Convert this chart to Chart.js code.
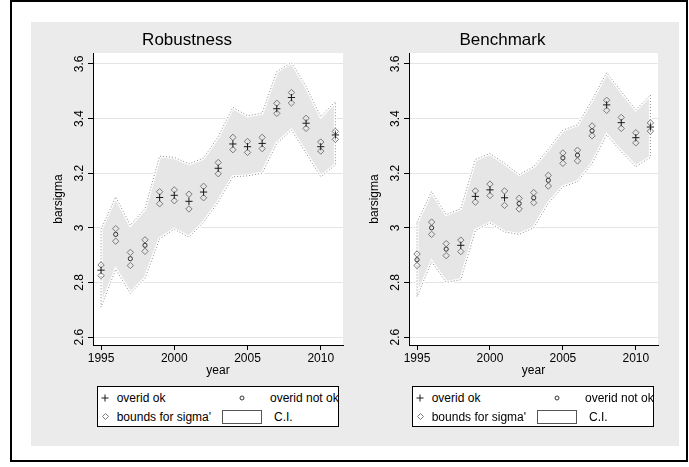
<!DOCTYPE html>
<html>
<head>
<meta charset="utf-8">
<script src="https://cdn.jsdelivr.net/npm/chart.js@4.4.0/dist/chart.umd.min.js"></script>
<style>
  html, body { margin: 0; padding: 0; background: #fff; width: 689px; height: 467px; overflow: hidden;
    font-family: "Liberation Sans", Arial, Helvetica, sans-serif; }
  #frame { position: absolute; left: 10px; top: 0px; width: 678px; height: 462px; box-sizing: border-box; border: 2px solid #000; }
  #bg { position: absolute; left: 31px; top: 22px; width: 648px; height: 424px; background: #ebebeb; }
  canvas { position: absolute; top: 22px; }
  #c1 { left: 31px; }
  #c2 { left: 347px; }
  .legend { position: absolute; top: 386px; width: 242px; height: 41px; box-sizing: border-box;
    border: 1px solid #000; background: #fff; overflow: visible; }
  .legend .t { position: absolute; font-size: 12px; line-height: 14px; color: #000; white-space: nowrap; }
  .legend svg { position: absolute; overflow: visible; }
</style>
</head>
<body>
<div id="frame"></div>
<div id="bg"></div>
<canvas id="c1" width="324" height="358"></canvas>
<canvas id="c2" width="323" height="358"></canvas>
<div class="legend" id="leg1"></div>
<div class="legend" id="leg2"></div>
<script>
// ---- data ----
const years = [1995, 1996, 1997, 1998, 1999, 2000, 2001, 2002, 2003, 2004, 2005, 2006, 2007, 2008, 2009, 2010, 2011];
const xTicks = [1995, 2000, 2005, 2010];
const yTicks = [2.6, 2.8, 3.0, 3.2, 3.4, 3.6];
const yTickLabels = ['2.6', '2.8', '3', '3.2', '3.4', '3.6'];

// Robustness panel
const robBoundHi = [2.864, 2.997, 2.910, 2.956, 3.132, 3.139, 3.123, 3.152, 3.239, 3.331, 3.316, 3.331, 3.456, 3.495, 3.401, 3.314, 3.353];
const robBoundLo = [2.825, 2.951, 2.862, 2.914, 3.088, 3.099, 3.069, 3.110, 3.198, 3.286, 3.276, 3.290, 3.419, 3.457, 3.364, 3.281, 3.324];
const robOk      = [2.845, null, null, null, 3.111, 3.119, 3.097, 3.131, 3.218, 3.307, 3.297, 3.309, 3.436, 3.477, 3.383, 3.297, 3.340];
const robNotOk   = [null, 2.976, 2.887, 2.936, null, null, null, null, null, null, null, null, null, null, null, null, null];
const robCiHi    = [2.995, 3.113, 3.010, 3.070, 3.262, 3.258, 3.234, 3.255, 3.334, 3.441, 3.410, 3.420, 3.572, 3.605, 3.517, 3.407, 3.462];
const robCiLo    = [2.710, 2.848, 2.760, 2.815, 2.960, 2.995, 2.966, 3.020, 3.095, 3.187, 3.190, 3.200, 3.309, 3.358, 3.273, 3.187, 3.230];

// Benchmark panel
const benBoundHi = [2.904, 3.021, 2.942, 2.955, 3.135, 3.160, 3.135, 3.108, 3.129, 3.192, 3.274, 3.284, 3.373, 3.467, 3.404, 3.348, 3.384];
const benBoundLo = [2.862, 2.976, 2.898, 2.913, 3.094, 3.118, 3.082, 3.069, 3.092, 3.153, 3.236, 3.245, 3.337, 3.430, 3.364, 3.311, 3.354];
const benOk      = [null, null, null, 2.936, 3.115, 3.139, 3.110, null, null, null, null, null, null, 3.450, 3.385, 3.330, 3.369];
const benNotOk   = [2.883, 3.000, 2.922, null, null, null, null, 3.089, 3.110, 3.174, 3.256, 3.266, 3.355, null, null, null, null];
const benCiHi    = [3.020, 3.133, 3.048, 3.070, 3.250, 3.272, 3.236, 3.195, 3.224, 3.288, 3.358, 3.377, 3.468, 3.568, 3.499, 3.432, 3.486];
const benCiLo    = [2.748, 2.876, 2.800, 2.810, 2.990, 3.018, 2.985, 2.976, 3.000, 3.090, 3.150, 3.169, 3.236, 3.340, 3.279, 3.224, 3.258];

// ---- helpers ----
Chart.defaults.font.family = '"Liberation Sans", Arial, Helvetica, sans-serif';
Chart.defaults.font.size = 12;
Chart.defaults.color = '#000';

const pts = ys => years.map((x, i) => ({ x: x, y: ys[i] }));
// closed outline of the confidence band: upper edge forward, lower edge back
function bandOutline(hi, lo) {
  const up = pts(hi);
  const dn = pts(lo).reverse();
  return up.concat(dn, [up[0]]);
}

const plotBackground = {
  id: 'plotBackground',
  beforeDraw(chart) {
    const { ctx, chartArea: a } = chart;
    ctx.save();
    ctx.fillStyle = '#ffffff';
    ctx.fillRect(a.left, a.top, a.right - a.left, a.bottom - a.top);
    ctx.restore();
  }
};

function makePanel(canvasId, title, boundHi, boundLo, okVals, notOkVals, ciHi, ciLo) {
  const markerBase = { type: 'line', showLine: false, pointHitRadius: 0 };
  return new Chart(document.getElementById(canvasId), {
    type: 'line',
    data: {
      datasets: [
        { label: 'C.I. upper', data: pts(ciHi), fill: '+1', backgroundColor: '#e6e6e6',
          borderWidth: 0, pointRadius: 0, tension: 0, order: 5 },
        { label: 'C.I. lower', data: pts(ciLo), fill: false, borderWidth: 0, borderColor: 'rgba(0,0,0,0)',
          pointRadius: 0, tension: 0, order: 6 },
        { label: 'C.I. halo', data: bandOutline(ciHi, ciLo), fill: false, borderColor: '#ffffff',
          borderWidth: 3, pointRadius: 0, tension: 0, order: 4 },
        { label: 'C.I.', data: bandOutline(ciHi, ciLo), fill: false, borderColor: '#8c8c8c',
          borderWidth: 1, borderDash: [1, 2], pointRadius: 0, tension: 0, order: 3 },
        Object.assign({ label: "bounds for sigma' (upper)", data: pts(boundHi), pointStyle: 'rectRot',
          pointRadius: 3.2, pointBorderWidth: 1, pointBorderColor: '#7a7a7a',
          pointBackgroundColor: 'rgba(0,0,0,0)', order: 2 }, markerBase),
        Object.assign({ label: "bounds for sigma' (lower)", data: pts(boundLo), pointStyle: 'rectRot',
          pointRadius: 3.2, pointBorderWidth: 1, pointBorderColor: '#7a7a7a',
          pointBackgroundColor: 'rgba(0,0,0,0)', order: 2 }, markerBase),
        Object.assign({ label: 'overid ok', data: pts(okVals), pointStyle: 'cross',
          pointRadius: 3.6, pointBorderWidth: 1, pointBorderColor: '#1a1a1a', order: 1 }, markerBase),
        Object.assign({ label: 'overid not ok', data: pts(notOkVals), pointStyle: 'circle',
          pointRadius: 2.1, pointBorderWidth: 1, pointBorderColor: '#333333',
          pointBackgroundColor: 'rgba(0,0,0,0)', order: 1 }, markerBase)
      ]
    },
    options: {
      responsive: false,
      animation: false,
      events: [],
      devicePixelRatio: 1,
      layout: { padding: { left: 0, right: 12, top: 0, bottom: 0 }, autoPadding: false },
      plugins: {
        legend: { display: false },
        tooltip: { enabled: false },
        title: { display: true, text: title, color: '#000',
          font: { size: 17, weight: 'normal' }, padding: { top: 8.3, bottom: 2.3 } }
      },
      scales: {
        x: {
          type: 'linear', position: 'bottom', min: 1994.45, max: 2011.52,
          afterBuildTicks: s => { s.ticks = xTicks.map(v => ({ value: v })); },
          afterFit: s => { s.height = 35; },
          ticks: { callback: v => String(v), maxRotation: 0, autoSkip: false, padding: 1, color: '#000',
            font: { size: 12 } },
          grid: { drawOnChartArea: false, drawTicks: true, tickLength: 5, tickColor: '#000', tickWidth: 1 },
          border: { display: true, color: '#000', width: 1 },
          title: { display: true, text: 'year', color: '#000', font: { size: 12 }, padding: { top: 0, bottom: 1.8 } }
        },
        y: {
          type: 'linear', position: 'left', min: 2.571, max: 3.640,
          afterBuildTicks: s => { s.ticks = yTicks.map(v => ({ value: v })); },
          afterFit: s => { s.width = 62; },
          ticks: { callback: (v, i) => yTickLabels[i], minRotation: 90, maxRotation: 90, crossAlign: 'center',
            padding: 0, autoSkip: false, color: '#000', font: { size: 12 } },
          grid: { color: '#e4e4e4', lineWidth: 1, drawTicks: true, tickLength: 5, tickColor: '#000', tickWidth: 1 },
          border: { display: true, color: '#000', width: 1 },
          title: { display: true, text: 'barsigma', color: '#000', font: { size: 12 }, padding: { top: 20, bottom: 0 } }
        }
      }
    },
    plugins: [plotBackground]
  });
}

makePanel('c1', 'Robustness', robBoundHi, robBoundLo, robOk, robNotOk, robCiHi, robCiLo);
makePanel('c2', 'Benchmark', benBoundHi, benBoundLo, benOk, benNotOk, benCiHi, benCiLo);

// ---- legends ----
const legendItems = [
  { sym: 'plus', sx: 8, tx: 19.7, row: 0, text: 'overid ok' },
  { sym: 'circle', sx: 144.7, tx: 173, row: 0, text: 'overid not ok' },
  { sym: 'diamond', sx: 8, tx: 19.7, row: 1, text: "bounds for sigma'" },
  { sym: 'swatch', sx: 125, tx: 177, row: 1, text: 'C.I.' }
];
const rowY = [11.7, 30.7];
function symbolSvg(kind) {
  const ns = 'http://www.w3.org/2000/svg';
  const svg = document.createElementNS(ns, 'svg');
  let shape;
  if (kind === 'plus') {
    svg.setAttribute('width', 8); svg.setAttribute('height', 8);
    shape = document.createElementNS(ns, 'path');
    shape.setAttribute('d', 'M4 0.5 V7.5 M0.5 4 H7.5');
    shape.setAttribute('stroke', '#1a1a1a'); shape.setAttribute('stroke-width', '1'); shape.setAttribute('fill', 'none');
  } else if (kind === 'circle') {
    svg.setAttribute('width', 6); svg.setAttribute('height', 6);
    shape = document.createElementNS(ns, 'circle');
    shape.setAttribute('cx', 3); shape.setAttribute('cy', 3); shape.setAttribute('r', 2);
    shape.setAttribute('stroke', '#333'); shape.setAttribute('stroke-width', '1'); shape.setAttribute('fill', 'none');
  } else if (kind === 'diamond') {
    svg.setAttribute('width', 7); svg.setAttribute('height', 7);
    shape = document.createElementNS(ns, 'path');
    shape.setAttribute('d', 'M3.5 0.5 L6.5 3.5 L3.5 6.5 L0.5 3.5 Z');
    shape.setAttribute('stroke', '#7a7a7a'); shape.setAttribute('stroke-width', '1'); shape.setAttribute('fill', 'none');
  } else {
    svg.setAttribute('width', 40); svg.setAttribute('height', 14);
    shape = document.createElementNS(ns, 'rect');
    shape.setAttribute('x', 0.5); shape.setAttribute('y', 0.5); shape.setAttribute('width', 39); shape.setAttribute('height', 13);
    shape.setAttribute('stroke', '#555'); shape.setAttribute('stroke-width', '1'); shape.setAttribute('fill', '#fff');
  }
  svg.appendChild(shape);
  return svg;
}
function buildLegend(id, left) {
  const box = document.getElementById(id);
  box.style.left = left + 'px';
  legendItems.forEach(it => {
    const svg = symbolSvg(it.sym);
    const w = +svg.getAttribute('width'), h = +svg.getAttribute('height');
    const cx = it.sym === 'swatch' ? it.sx + w / 2 : it.sx;
    svg.style.left = (cx - w / 2 - 1) + 'px';
    svg.style.top = (rowY[it.row] - h / 2 - 1) + 'px';
    box.appendChild(svg);
    const t = document.createElement('div');
    t.className = 't';
    t.textContent = it.text;
    t.style.left = (it.tx - 1) + 'px';
    t.style.top = (rowY[it.row] - 7 - 1) + 'px';
    box.appendChild(t);
  });
}
buildLegend('leg1', 97);
buildLegend('leg2', 412);
</script>
</body>
</html>
